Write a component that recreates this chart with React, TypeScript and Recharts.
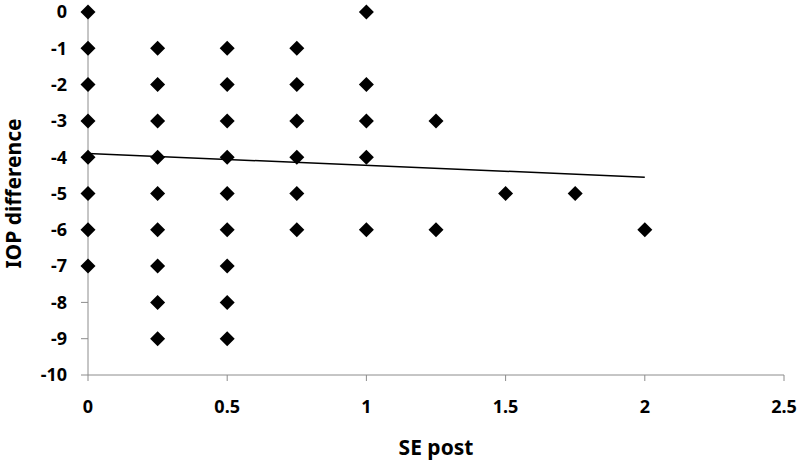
import { ScatterChart, Scatter, XAxis, YAxis } from 'recharts'

// SE post value for each point, and IOP difference
const sePost = [
    0, 0, 0, 0, 0, 0, 0, 0,
    0.25, 0.25, 0.25, 0.25, 0.25, 0.25, 0.25, 0.25, 0.25,
    0.5, 0.5, 0.5, 0.5, 0.5, 0.5, 0.5, 0.5, 0.5,
    0.75, 0.75, 0.75, 0.75, 0.75, 0.75,
    1, 1, 1, 1, 1,
    1.25, 1.25,
    1.5,
    1.75,
    2,
]
const iopDiff = [
    0, -1, -2, -3, -4, -5, -6, -7,
    -1, -2, -3, -4, -5, -6, -7, -8, -9,
    -1, -2, -3, -4, -5, -6, -7, -8, -9,
    -1, -2, -3, -4, -5, -6,
    0, -2, -3, -4, -6,
    -3, -6,
    -5,
    -5,
    -6,
]

// linear trendline end points
const trendX = [0, 2]
const trendY = [-3.9, -4.55]

const xTicks = [0, 0.5, 1, 1.5, 2, 2.5]
const yTicks = [0, -1, -2, -3, -4, -5, -6, -7, -8, -9, -10]

const points = sePost.map((x, i) => ({ x, y: iopDiff[i] }))
const trend = trendX.map((x, i) => ({ x, y: trendY[i] }))

const FONT = '"Noto Sans", sans-serif'
const axisGrey = '#8c8c8c'

const Diamond = (props: any) => {
    const { cx, cy } = props
    const r = 7.5
    return (
        <polygon
            points={`${cx},${cy - r} ${cx + r},${cy} ${cx},${cy + r} ${cx - r},${cy}`}
            fill="#000"
        />
    )
}

export default function App() {
    return (
        <div style={{ position: 'absolute', left: 0, top: 0, background: '#fff' }}>
            <ScatterChart
                width={799}
                height={460}
                margin={{ top: 12, right: 15, bottom: 0, left: 0 }}
            >
                <XAxis
                    type="number"
                    dataKey="x"
                    domain={[0, 2.5]}
                    ticks={xTicks}
                    interval={0}
                    stroke={axisGrey}
                    tickSize={6}
                    tickMargin={19}
                    height={85}
                    tick={{ fill: '#000', fontSize: 18, fontWeight: 700, fontFamily: FONT }}
                    label={{
                        value: 'SE post',
                        position: 'insideBottom',
                        offset: 5,
                        fill: '#000',
                        fontSize: 21,
                        fontWeight: 700,
                        fontFamily: FONT,
                    }}
                />
                <YAxis
                    type="number"
                    dataKey="y"
                    domain={[-10, 0]}
                    ticks={yTicks}
                    interval={0}
                    stroke={axisGrey}
                    tickSize={7}
                    tickMargin={14}
                    width={88}
                    tick={{ fill: '#000', fontSize: 18, fontWeight: 700, fontFamily: FONT }}
                    label={{
                        value: 'IOP difference',
                        angle: -90,
                        position: 'insideLeft',
                        offset: 14,
                        style: { textAnchor: 'middle' },
                        fill: '#000',
                        fontSize: 21,
                        fontWeight: 700,
                        fontFamily: FONT,
                    }}
                />
                <Scatter
                    data={trend}
                    line={{ stroke: '#000', strokeWidth: 1.5 }}
                    shape={() => <g />}
                    isAnimationActive={false}
                />
                <Scatter data={points} shape={<Diamond />} isAnimationActive={false} />
            </ScatterChart>
        </div>
    )
}
